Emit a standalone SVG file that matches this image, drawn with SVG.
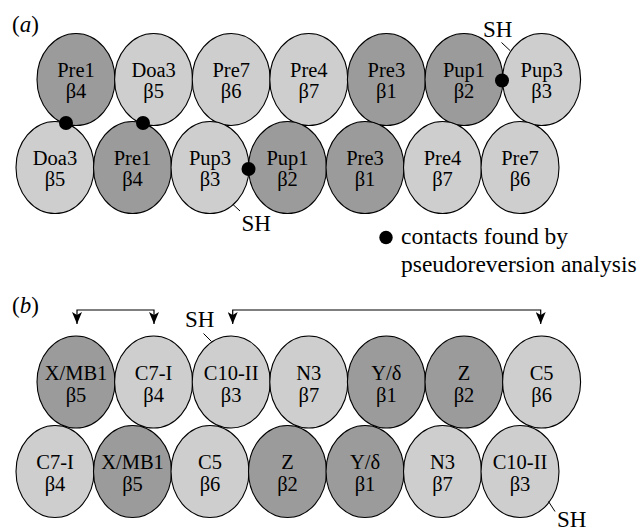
<svg xmlns="http://www.w3.org/2000/svg" width="644" height="530" viewBox="0 0 644 530">
  <style>
    .dark { fill: #9b9b9b; stroke: #000; stroke-width: 1.1; }
    .light { fill: #cecece; stroke: #000; stroke-width: 1.1; }
    .lbl { font-family: "Liberation Serif", "Times New Roman", serif; font-size: 20.5px; fill: #000; text-anchor: middle; }
    .txt { font-family: "Liberation Serif", "Times New Roman", serif; font-size: 23.5px; fill: #000; }
    .tag { font-family: "Liberation Serif", "Times New Roman", serif; font-size: 23px; fill: #000; }
    .lead { stroke: #000; stroke-width: 1; fill: none; }
    .conn { stroke: #000; stroke-width: 1.2; fill: none; }
    .dot { fill: #000; }
  </style>
  <defs>
    <marker id="arrow" viewBox="0 0 12 10" refX="12" refY="5" markerWidth="12" markerHeight="10" markerUnits="userSpaceOnUse" orient="auto-start-reverse">
      <path d="M0,0 L12,5 L0,10 L3,5 Z" fill="#000"/>
    </marker>
  </defs>

  <!-- panel (a) -->
  <text class="tag" x="12" y="32">(<tspan font-style="italic">a</tspan>)</text>

  <g id="a-top">
    <g id="a-t1"><ellipse class="dark" cx="76" cy="79.5" rx="39" ry="46"/><text class="lbl" x="76" y="76.5">Pre1</text><text class="lbl" x="76" y="98">β4</text></g>
    <g id="a-t2"><ellipse class="light" cx="153.6" cy="79.5" rx="39" ry="46"/><text class="lbl" x="153.6" y="76.5">Doa3</text><text class="lbl" x="153.6" y="98">β5</text></g>
    <g id="a-t3"><ellipse class="light" cx="231.2" cy="79.5" rx="39" ry="46"/><text class="lbl" x="231.2" y="76.5">Pre7</text><text class="lbl" x="231.2" y="98">β6</text></g>
    <g id="a-t4"><ellipse class="light" cx="308.8" cy="79.5" rx="39" ry="46"/><text class="lbl" x="308.8" y="76.5">Pre4</text><text class="lbl" x="308.8" y="98">β7</text></g>
    <g id="a-t5"><ellipse class="dark" cx="386.4" cy="79.5" rx="39" ry="46"/><text class="lbl" x="386.4" y="76.5">Pre3</text><text class="lbl" x="386.4" y="98">β1</text></g>
    <g id="a-t6"><ellipse class="dark" cx="464" cy="79.5" rx="39" ry="46"/><text class="lbl" x="464" y="76.5">Pup1</text><text class="lbl" x="464" y="98">β2</text></g>
    <g id="a-t7"><ellipse class="light" cx="541.6" cy="79.5" rx="39" ry="46"/><text class="lbl" x="541.6" y="76.5">Pup3</text><text class="lbl" x="541.6" y="98">β3</text></g>
  </g>

  <g id="a-bottom">
    <g id="a-b1"><ellipse class="light" cx="55" cy="167.5" rx="39" ry="46"/><text class="lbl" x="55" y="164.5">Doa3</text><text class="lbl" x="55" y="186">β5</text></g>
    <g id="a-b2"><ellipse class="dark" cx="132.5" cy="167.5" rx="39" ry="46"/><text class="lbl" x="132.5" y="164.5">Pre1</text><text class="lbl" x="132.5" y="186">β4</text></g>
    <g id="a-b3"><ellipse class="light" cx="210" cy="167.5" rx="39" ry="46"/><text class="lbl" x="210" y="164.5">Pup3</text><text class="lbl" x="210" y="186">β3</text></g>
    <g id="a-b4"><ellipse class="dark" cx="287.5" cy="167.5" rx="39" ry="46"/><text class="lbl" x="287.5" y="164.5">Pup1</text><text class="lbl" x="287.5" y="186">β2</text></g>
    <g id="a-b5"><ellipse class="dark" cx="365" cy="167.5" rx="39" ry="46"/><text class="lbl" x="365" y="164.5">Pre3</text><text class="lbl" x="365" y="186">β1</text></g>
    <g id="a-b6"><ellipse class="light" cx="442.5" cy="167.5" rx="39" ry="46"/><text class="lbl" x="442.5" y="164.5">Pre4</text><text class="lbl" x="442.5" y="186">β7</text></g>
    <g id="a-b7"><ellipse class="light" cx="520" cy="167.5" rx="39" ry="46"/><text class="lbl" x="520" y="164.5">Pre7</text><text class="lbl" x="520" y="186">β6</text></g>
  </g>

  <!-- contact points -->
  <g id="a-contacts">
    <circle class="dot" cx="66" cy="123" r="7"/>
    <circle class="dot" cx="143" cy="123" r="7"/>
    <circle class="dot" cx="502" cy="80.5" r="7"/>
    <circle class="dot" cx="248.5" cy="169" r="7"/>
  </g>

  <!-- SH annotations, panel (a) -->
  <g id="a-sh">
    <text class="tag" x="483" y="36.5">SH</text>
    <line class="lead" x1="501.5" y1="42.5" x2="510" y2="50.5"/>
    <text class="tag" x="241.5" y="230.5">SH</text>
    <line class="lead" x1="233" y1="204.5" x2="240" y2="211"/>
  </g>

  <!-- legend -->
  <g id="legend">
    <circle class="dot" cx="386" cy="237.5" r="6.7"/>
    <text class="txt" x="401" y="243.5">contacts found by</text>
    <text class="txt" x="401" y="271.5">pseudoreversion analysis</text>
  </g>

  <!-- panel (b) -->
  <text class="tag" x="12" y="313">(<tspan font-style="italic">b</tspan>)</text>

  <g id="connectors">
    <path class="conn" d="M77,324 V310 H154 V324" marker-start="url(#arrow)" marker-end="url(#arrow)"/>
    <path class="conn" d="M232.7,324 V310 H540.7 V324" marker-start="url(#arrow)" marker-end="url(#arrow)"/>
  </g>

  <g id="b-top">
    <g id="b-t1"><ellipse class="dark" cx="76" cy="382" rx="39" ry="46"/><text class="lbl" x="76" y="380">X/MB1</text><text class="lbl" x="76" y="402">β5</text></g>
    <g id="b-t2"><ellipse class="light" cx="153.6" cy="382" rx="39" ry="46"/><text class="lbl" x="153.6" y="380">C7-I</text><text class="lbl" x="153.6" y="402">β4</text></g>
    <g id="b-t3"><ellipse class="light" cx="231.2" cy="382" rx="39" ry="46"/><text class="lbl" x="231.2" y="380">C10-II</text><text class="lbl" x="231.2" y="402">β3</text></g>
    <g id="b-t4"><ellipse class="light" cx="308.8" cy="382" rx="39" ry="46"/><text class="lbl" x="308.8" y="380">N3</text><text class="lbl" x="308.8" y="402">β7</text></g>
    <g id="b-t5"><ellipse class="dark" cx="386.4" cy="382" rx="39" ry="46"/><text class="lbl" x="386.4" y="380">Y/δ</text><text class="lbl" x="386.4" y="402">β1</text></g>
    <g id="b-t6"><ellipse class="dark" cx="464" cy="382" rx="39" ry="46"/><text class="lbl" x="464" y="380">Z</text><text class="lbl" x="464" y="402">β2</text></g>
    <g id="b-t7"><ellipse class="light" cx="541.6" cy="382" rx="39" ry="46"/><text class="lbl" x="541.6" y="380">C5</text><text class="lbl" x="541.6" y="402">β6</text></g>
  </g>

  <g id="b-bottom">
    <g id="b-b1"><ellipse class="light" cx="55" cy="471.5" rx="39" ry="46"/><text class="lbl" x="55" y="469">C7-I</text><text class="lbl" x="55" y="491">β4</text></g>
    <g id="b-b2"><ellipse class="dark" cx="132.5" cy="471.5" rx="39" ry="46"/><text class="lbl" x="132.5" y="469">X/MB1</text><text class="lbl" x="132.5" y="491">β5</text></g>
    <g id="b-b3"><ellipse class="light" cx="210" cy="471.5" rx="39" ry="46"/><text class="lbl" x="210" y="469">C5</text><text class="lbl" x="210" y="491">β6</text></g>
    <g id="b-b4"><ellipse class="dark" cx="287.5" cy="471.5" rx="39" ry="46"/><text class="lbl" x="287.5" y="469">Z</text><text class="lbl" x="287.5" y="491">β2</text></g>
    <g id="b-b5"><ellipse class="dark" cx="365" cy="471.5" rx="39" ry="46"/><text class="lbl" x="365" y="469">Y/δ</text><text class="lbl" x="365" y="491">β1</text></g>
    <g id="b-b6"><ellipse class="light" cx="442.5" cy="471.5" rx="39" ry="46"/><text class="lbl" x="442.5" y="469">N3</text><text class="lbl" x="442.5" y="491">β7</text></g>
    <g id="b-b7"><ellipse class="light" cx="520" cy="471.5" rx="39" ry="46"/><text class="lbl" x="520" y="469">C10-II</text><text class="lbl" x="520" y="491">β3</text></g>
  </g>

  <!-- SH annotations, panel (b) -->
  <g id="b-sh">
    <text class="tag" x="185" y="326.5">SH</text>
    <line class="lead" x1="203.5" y1="333.5" x2="211.5" y2="341.5"/>
    <text class="tag" x="557" y="527">SH</text>
    <line class="lead" x1="548.5" y1="501.5" x2="555" y2="511.5"/>
  </g>
</svg>
